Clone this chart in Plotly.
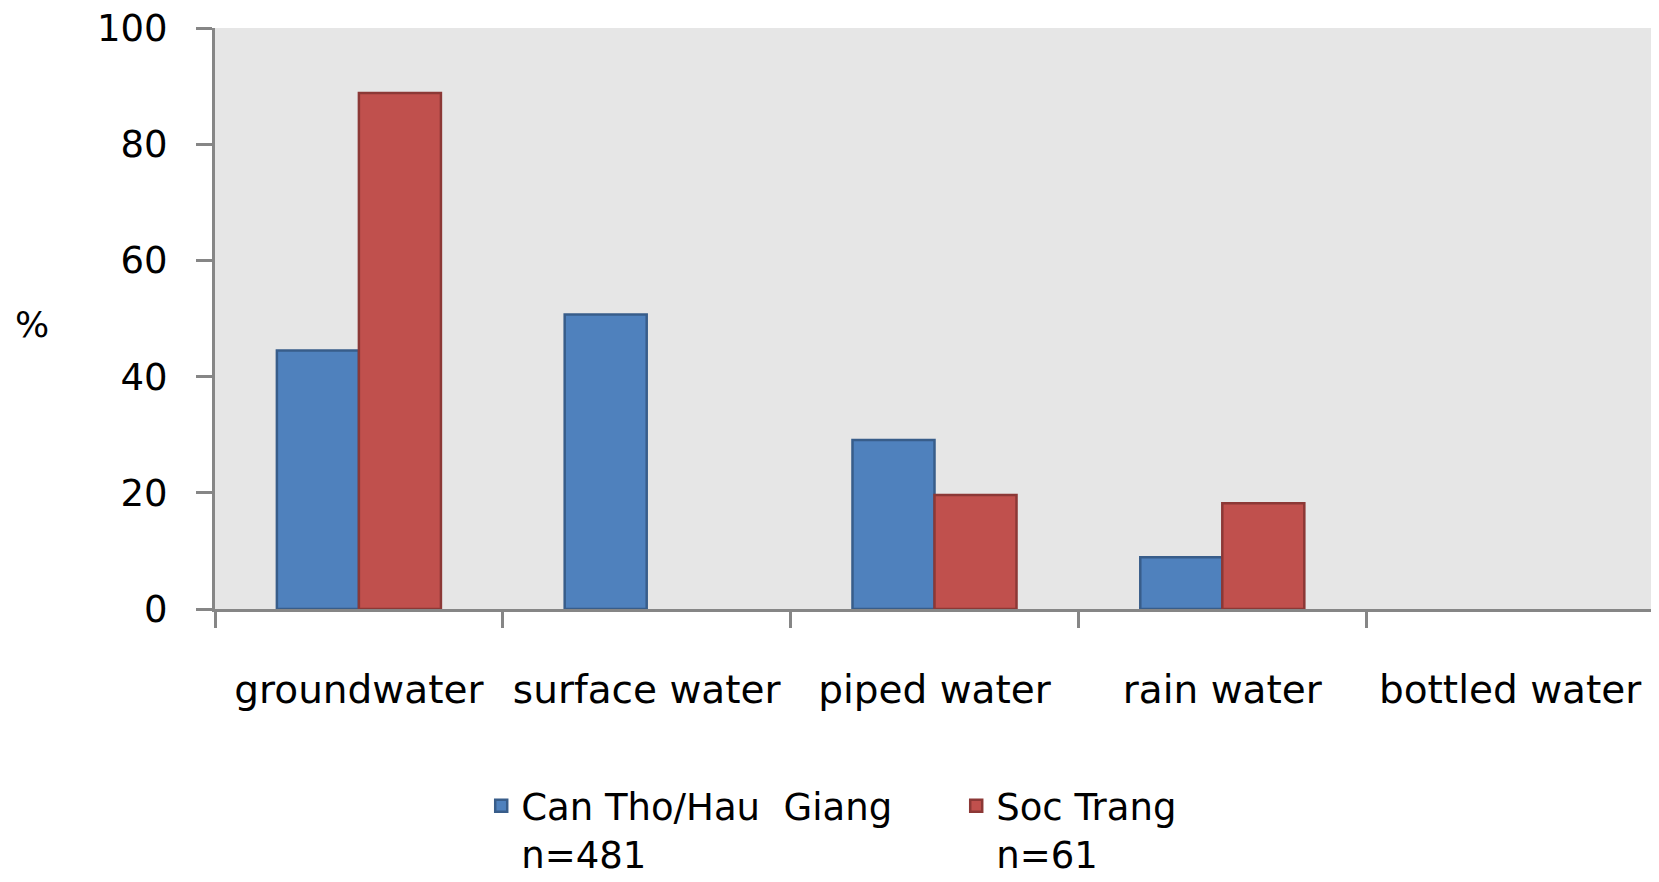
import plotly.graph_objects as go

categories = ["groundwater", "surface water", "piped water", "rain water", "bottled water"]
can_tho_name = "Can Tho/Hau\u00a0 Giang<br>n=481"
soc_trang_name = "Soc Trang<br>n=61"
can_tho_values = [44.5, 50.7, 29.1, 8.9, 0]
soc_trang_values = [88.8, 0, 19.6, 18.2, 0]
y_ticks = [0, 20, 40, 60, 80, 100]

FONT = "DejaVu Sans"
AXIS_COLOR = "#868686"


def drawn(values):
    # zero-height bars are not drawn in the reference
    return [v if v else None for v in values]


fig = go.Figure()
fig.add_trace(go.Bar(
    x=categories, y=drawn(can_tho_values), name=can_tho_name,
    marker=dict(color="#4F81BD", line=dict(color="#385D8A", width=2.5)),
))
fig.add_trace(go.Bar(
    x=categories, y=drawn(soc_trang_values), name=soc_trang_name,
    marker=dict(color="#C0504D", line=dict(color="#8C3836", width=2.5)),
))

fig.update_layout(
    width=1651, height=874,
    margin=dict(l=207, r=5, t=20, b=273, autoexpand=False),
    paper_bgcolor="white",
    plot_bgcolor="#E6E6E6",
    barmode="group",
    bargap=0.43,
    bargroupgap=0,
    font=dict(family=FONT, size=37, color="#000000"),
    showlegend=True,
    legend=dict(
        orientation="h",
        x=0.185, xanchor="left",
        y=-0.286, yanchor="top",
        font=dict(family=FONT, size=37, color="#000000"),
        valign="top",
        entrywidth=430,
        bgcolor="rgba(0,0,0,0)",
    ),
    xaxis=dict(
        type="category",
        showline=True, linecolor=AXIS_COLOR, linewidth=3,
        ticks="outside", tickson="boundaries", ticklen=16, tickwidth=3, tickcolor=AXIS_COLOR,
        ticklabelstandoff=44,
        showgrid=False, zeroline=False,
        tickfont=dict(family=FONT, size=39, color="#000000"),
    ),
    yaxis=dict(
        range=[0, 100],
        tickvals=y_ticks,
        showline=True, linecolor=AXIS_COLOR, linewidth=3,
        ticks="outside", ticklen=16, tickwidth=3, tickcolor=AXIS_COLOR,
        ticklabelstandoff=21,
        ticklabeloverflow="allow",
        showgrid=False, zeroline=False,
        tickfont=dict(family=FONT, size=37, color="#000000"),
    ),
    annotations=[dict(
        text="%", xref="paper", yref="paper",
        x=-(207 - 24) / 1439, y=0.49, xanchor="center", yanchor="middle",
        showarrow=False, font=dict(family=FONT, size=36, color="#000000"),
    )],
)

fig.write_html("out.html")
